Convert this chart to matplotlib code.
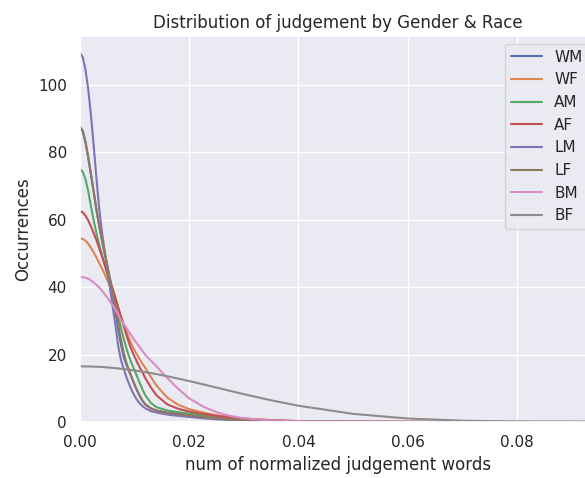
import matplotlib
matplotlib.use('Agg')
import matplotlib.pyplot as plt
import seaborn as sns

OUT_FILE = 'out.png'

x_vals = [0, 0.0005, 0.001, 0.0015, 0.002, 0.0025, 0.003, 0.0035, 0.004,
          0.0045, 0.005, 0.0055, 0.006, 0.0065, 0.007, 0.0075, 0.008, 0.0085,
          0.009, 0.0095, 0.010, 0.0105, 0.011, 0.0115, 0.012,
          0.013, 0.014, 0.016, 0.018, 0.020, 0.0225, 0.025, 0.0275, 0.030,
          0.035, 0.040, 0.050, 0.060, 0.070, 0.080, 0.095]

groups = ['WM', 'WF', 'AM', 'AF', 'LM', 'LF', 'BM', 'BF']

wm = [87.5, 86.3, 83, 78.5, 73.5, 68.3, 63, 58.3, 54, 50, 46, 41.8,
      37.5, 32.5, 27.5, 23, 19.2, 17.0, 15, 13, 11, 9.1, 7.5, 6.1, 5.1,
      4.0, 3.4, 2.8, 2.4, 2.1, 1.6, 1.2, 0.85, 0.6, 0.3, 0.15, 0.05, 0.01,
      0, 0, 0]
wf = [54.5, 54.3, 53.8, 52.9, 51.7, 50.3, 48.8, 47.2, 45.6, 43.9,
      42.1, 40.2, 38.2, 36, 33.7, 31.3, 29, 26.8, 24.7, 22.8, 21.2, 19.8, 18.4,
      17.1, 15.9,
      13.3, 10.8, 7.2, 5.1, 3.8, 2.8, 2.0, 1.4, 1.0, 0.55, 0.3, 0.1, 0.03,
      0, 0, 0]
am = [75, 74.2, 72, 68.5, 64, 59.8, 56, 52.7, 49.7, 46.7, 43.8,
      40.9, 37.8, 34.5, 31.2, 27.9, 24.7, 21.8, 19.3, 17.2, 15.3, 13.3, 11.3,
      9.4, 7.8,
      5.6, 4.4, 3.4, 2.9, 2.5, 1.95, 1.5, 1.1, 0.8, 0.4, 0.2, 0.06, 0.02,
      0, 0, 0]
af = [62.5, 62.2, 61.2, 59.8, 58, 56, 54, 51.6, 49.2, 46.8, 44.4, 42,
      39.5, 36.8, 34, 31.2, 28.5, 25.8, 23.3, 21.1, 19.3, 17.6, 16, 14.5, 12.9,
      10.2, 7.9, 5.2, 3.9, 3.1, 2.4, 1.8, 1.35, 1.0, 0.5, 0.25, 0.08, 0.02,
      0, 0, 0]
lm = [109.4, 108.2, 104.5, 98.7, 91.0, 82.1, 72.4, 63.5, 56.5, 51, 45.5,
      39.5, 34, 28.5, 22.5, 18.3, 15.8, 13.3, 11.2, 9.3, 7.7, 6.4, 5.4, 4.6,
      4.0,
      3.2, 2.8, 2.2, 1.8, 1.5, 1.1, 0.8, 0.55, 0.4, 0.2, 0.1, 0.03, 0.01,
      0, 0, 0]
lf = [87.5, 86.3, 83, 78.5, 73.5, 68.3, 63, 58.3, 54.2, 50.3, 46.5, 42.5,
      38.2, 34, 29, 24.5, 20.5, 17.5, 15.2, 13.1, 11, 9.2, 7.6, 6.2, 5.2,
      4.0, 3.4, 2.7, 2.3, 2.0, 1.5, 1.1, 0.8, 0.55, 0.28, 0.14, 0.05, 0.01,
      0, 0, 0]
bm = [43, 42.95, 42.8, 42.5, 42, 41.4, 40.7, 39.9, 39, 38, 36.9, 35.7, 34.5,
      33.2, 31.9, 30.2, 29.0, 27.8, 26.6, 25.4, 24.2, 23.1, 22, 20.9, 19.8,
      18.2, 16.5, 13.0, 9.8, 7.0, 4.6, 2.9, 1.8, 1.1, 0.45, 0.18, 0.05, 0.01,
      0, 0, 0]
bf = [16.5, 16.5, 16.49, 16.47, 16.45, 16.42, 16.39, 16.35, 16.3, 16.25, 16.19,
      16.12, 16.05, 15.97, 15.89, 15.8, 15.71, 15.61, 15.5, 15.39, 15.28, 15.16,
      15.04, 14.91, 14.77,
      14.49, 14.19, 13.55, 12.86, 12.13, 11.18, 10.2, 9.22, 8.26, 6.43, 4.82,
      2.41, 1.03, 0.38, 0.12, 0.02]

curves = [wm, wf, am, af, lm, lf, bm, bf]

sns.set()
fig = plt.figure(figsize=(5.85, 4.78), dpi=100)
ax = fig.add_axes([0.1368, 0.1172, 0.8821, 0.8075])

for name, y in zip(groups, curves):
    ax.plot(x_vals, y, label=name, linewidth=1.5)

ax.set_xlim(0, 0.0945)
ax.set_ylim(0, 114.5)
ax.set_xticks([0, 0.02, 0.04, 0.06, 0.08])
ax.set_yticks([0, 20, 40, 60, 80, 100])
ax.set_title('Distribution of judgement by Gender & Race')
ax.set_xlabel('num of normalized judgement words')
ax.set_ylabel('Occurrences')
ax.legend(loc='upper right')

fig.savefig(OUT_FILE, dpi=100)
plt.close(fig)
